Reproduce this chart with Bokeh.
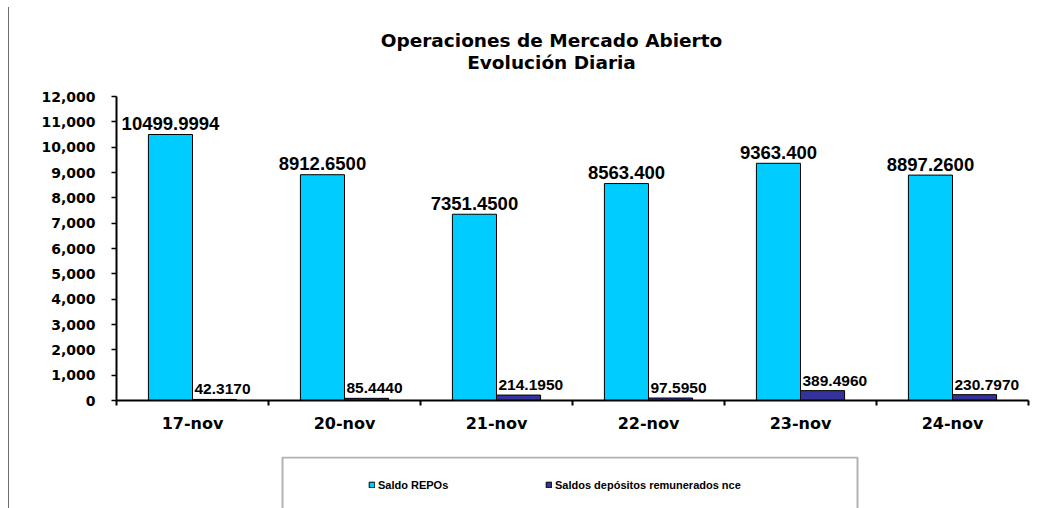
from bokeh.plotting import figure
from bokeh.layouts import column
from bokeh.models import (Range1d, FixedTicker, NumeralTickFormatter, ColumnDataSource,
                          Legend, LegendItem, Label, BoxAnnotation)
from bokeh.transform import dodge
from bokeh.core.properties import value
from bokeh.embed import file_html
from bokeh.resources import INLINE

# ---- data ----
categories = ["17-nov", "20-nov", "21-nov", "22-nov", "23-nov", "24-nov"]
saldo_repos = [10499.9994, 8912.65, 7351.45, 8563.4, 9363.4, 8897.26]
saldos_depositos = [42.317, 85.444, 214.195, 97.595, 389.496, 230.797]
repos_labels = ["10499.9994", "8912.6500", "7351.4500", "8563.400", "9363.400", "8897.2600"]
depositos_labels = ["42.3170", "85.4440", "214.1950", "97.5950", "389.4960", "230.7970"]
y_ticks = list(range(0, 12001, 1000))
series_names = ["Saldo REPOs", "Saldos depósitos remunerados nce"]
title_lines = ["Operaciones de Mercado Abierto", "Evolución Diaria"]

# ---- styling ----
C_REPO = "#00CCFF"
C_DEP = "#333399"
F_WIDE = "DejaVu Sans"
F_ARIAL = "Liberation Sans"
BAR_W = 0.29
OFF = 0.145
Y_MAX = 12000
FRAME_H = 400           # px from canvas top to the zero line
AXIS_H = 304            # px spanned by 0..12000

centers = [i + 0.5 for i in range(len(categories))]
src = ColumnDataSource(dict(x=centers, repo=saldo_repos, dep=saldos_depositos,
                            repo_lbl=repos_labels, dep_lbl=depositos_labels))

# frame reaches the canvas top so the title can live inside it
p = figure(width=1063, height=456, output_backend="svg", toolbar_location=None,
           title_location=None,
           x_range=Range1d(0, len(categories)), y_range=Range1d(0, Y_MAX * FRAME_H / AXIS_H),
           min_border_left=116, min_border_right=35, min_border_top=0, min_border_bottom=56)
p.background_fill_color = "white"
p.border_fill_alpha = 0
p.outline_line_color = None
p.xgrid.visible = False
p.ygrid.visible = False

r1 = p.vbar(x=dodge("x", -OFF, range=p.x_range), top="repo", width=BAR_W, source=src,
            fill_color=C_REPO, line_color="black", line_width=1)
r2 = p.vbar(x=dodge("x", OFF, range=p.x_range), top="dep", width=BAR_W, source=src,
            fill_color=C_DEP, line_color="black", line_width=1)

p.text(x=dodge("x", -OFF, range=p.x_range), y="repo", text="repo_lbl", source=src,
       text_align="center", text_baseline="alphabetic", y_offset=-11,
       text_font=value(F_ARIAL), text_font_size="18.5px", text_font_style="bold", text_color="black")
p.text(x="x", y="dep", text="dep_lbl", source=src,
       text_align="left", text_baseline="alphabetic", x_offset=2, y_offset=-10,
       text_font=value(F_ARIAL), text_font_size="15.5px", text_font_style="bold", text_color="black")

# x axis: labels at centres, tick marks at category boundaries
xa = p.xaxis[0]
xa.ticker = FixedTicker(ticks=centers, minor_ticks=list(range(len(categories) + 1)))
xa.major_label_overrides = {c: cat for c, cat in zip(centers, categories)}
xa.major_tick_out = 0
xa.major_tick_in = 0
xa.minor_tick_out = 5
xa.minor_tick_in = 0
xa.minor_tick_line_color = "black"
xa.minor_tick_line_width = 2
xa.axis_line_color = "black"
xa.axis_line_width = 2
xa.major_label_standoff = 8
xa.major_label_text_font = F_WIDE
xa.major_label_text_font_size = "16px"
xa.major_label_text_font_style = "bold"
xa.major_label_text_color = "black"

ya = p.yaxis[0]
ya.ticker = FixedTicker(ticks=y_ticks)
ya.formatter = NumeralTickFormatter(format="0,0")
ya.bounds = (0, Y_MAX)
ya.major_tick_out = 5
ya.major_tick_in = 0
ya.major_tick_line_width = 1.5
ya.major_tick_line_color = "black"
ya.minor_tick_line_color = None
ya.axis_line_color = "black"
ya.axis_line_width = 2
ya.major_label_standoff = 16
ya.major_label_text_font = F_WIDE
ya.major_label_text_font_size = "14px"
ya.major_label_text_font_style = "bold"
ya.major_label_text_color = "black"

# title (two centred lines)
for txt, yy in zip(title_lines, [360, 338.3]):
    p.add_layout(Label(x=435, y=yy, x_units="screen", y_units="screen", text=txt,
                       text_align="center", text_baseline="alphabetic",
                       text_font=F_WIDE, text_font_size="18.5px", text_font_style="bold",
                       text_color="black"))

# legend strip: same horizontal borders as the chart, pixel-scaled ranges
p2 = figure(width=1063, height=52, output_backend="svg", toolbar_location=None,
            title_location=None, x_axis_location=None, y_axis_location=None,
            x_range=Range1d(0, 912), y_range=Range1d(0, 52),
            min_border_left=116, min_border_right=35, min_border_top=0, min_border_bottom=0)
p2.background_fill_color = "white"
p2.border_fill_alpha = 0
p2.outline_line_color = None
p2.xgrid.visible = False
p2.ygrid.visible = False
# legend keys reuse the series data; the renderers themselves are not drawn here
k1 = p2.vbar(x="x", top="repo", width=BAR_W, source=src,
             fill_color=C_REPO, line_color="black", line_width=1)
k2 = p2.vbar(x="x", top="dep", width=BAR_W, source=src,
             fill_color=C_DEP, line_color="black", line_width=1)
k1.visible = False
k2.visible = False
p2.add_layout(BoxAnnotation(left=166, right=741, top=51, bottom=-10,
                            fill_alpha=0, line_color="black", line_width=2))
legend = Legend(items=[LegendItem(label=series_names[0], renderers=[k1]),
                       LegendItem(label=series_names[1], renderers=[k2])],
                location=(252, 17.5), orientation="horizontal",
                glyph_width=7, glyph_height=7, label_height=7, label_standoff=3,
                label_width=167, spacing=0, padding=0, margin=0,
                border_line_alpha=0, background_fill_alpha=0, inactive_fill_alpha=0,
                label_text_font=F_ARIAL, label_text_font_size="11px",
                label_text_font_style="bold", label_text_color="black")
p2.add_layout(legend, "center")

layout = column(p, p2, spacing=0,
                styles={"background": "linear-gradient(#6d6d6d, #6d6d6d) no-repeat 8px 7px / 1px 100%"})

open("out.html", "w").write(file_html(layout, INLINE))
